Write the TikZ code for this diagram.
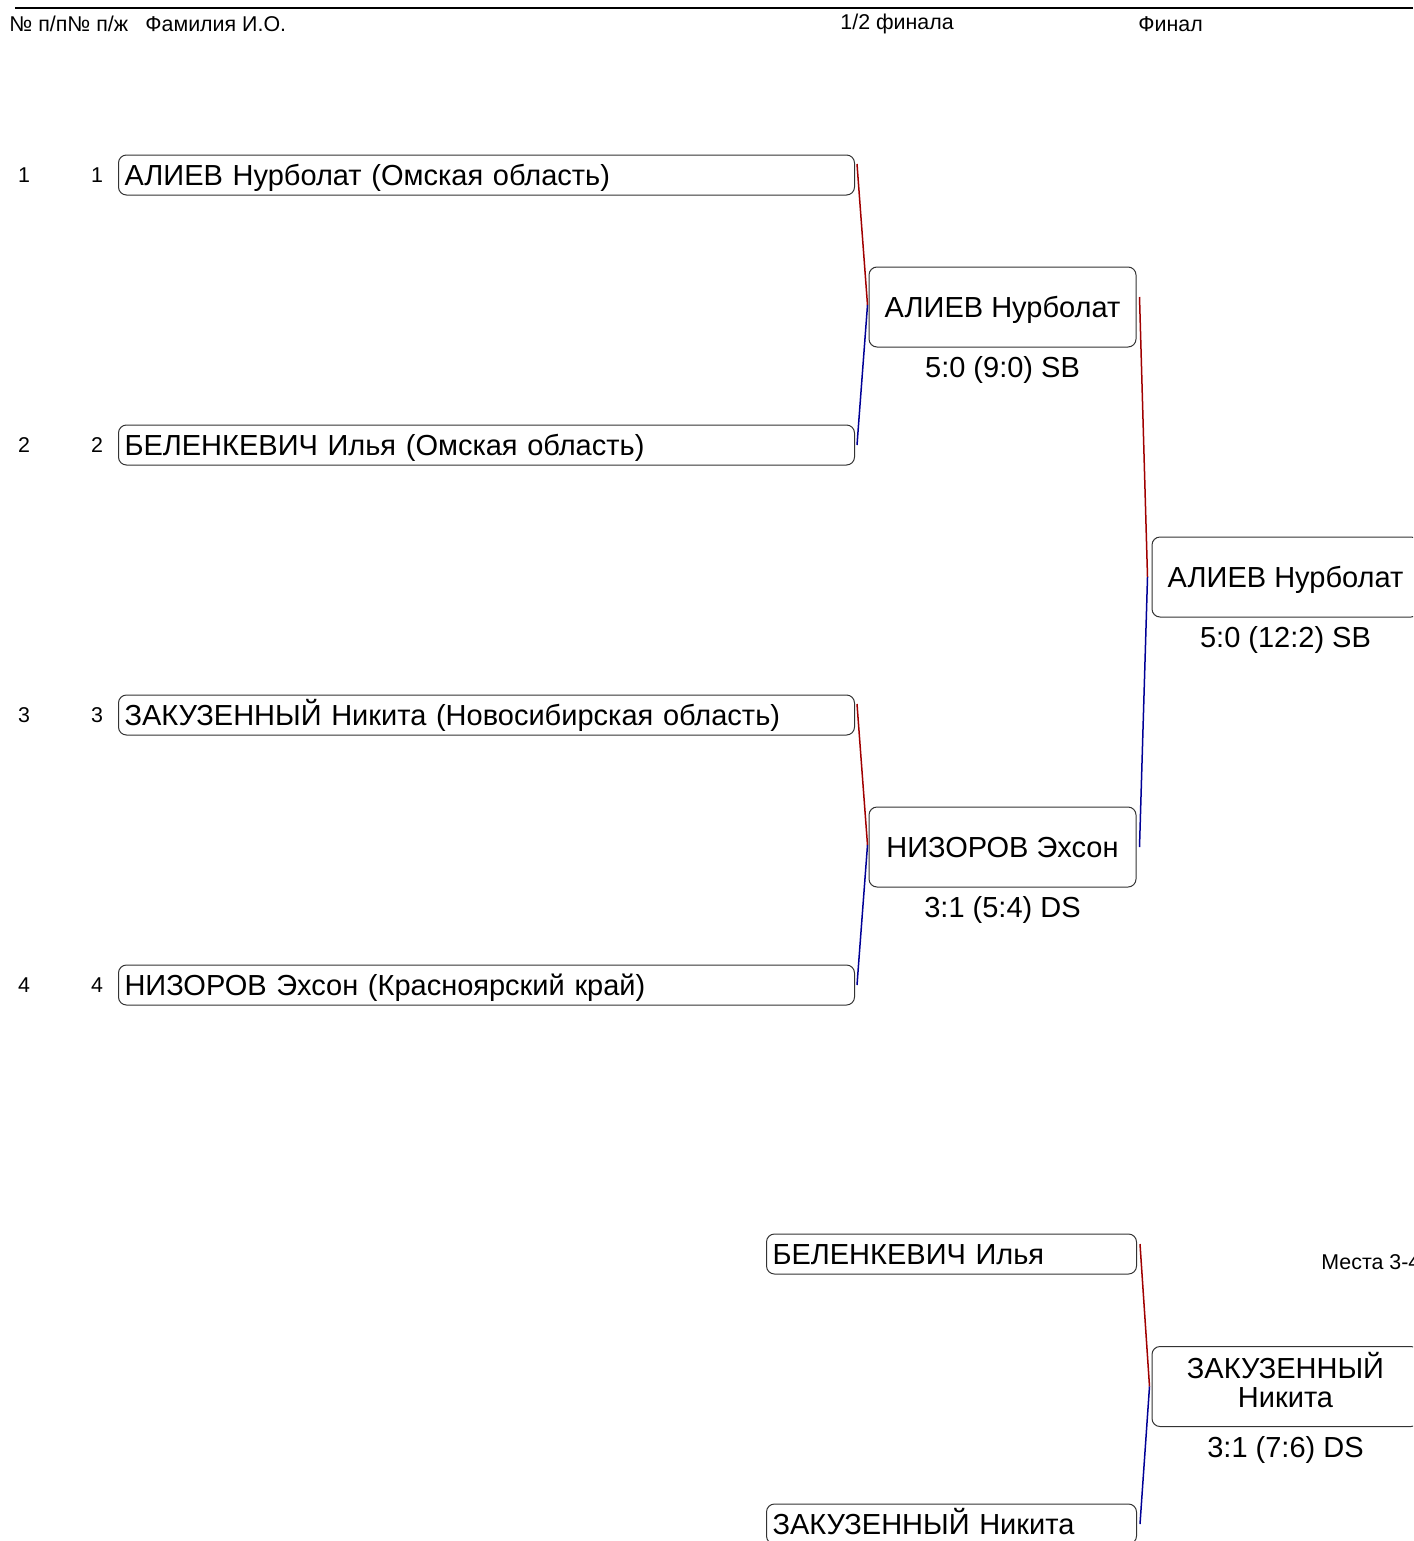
\documentclass[tikz,border=0pt]{standalone}
\usepackage{fontspec}
\setmainfont{Liberation Sans}
\usetikzlibrary{positioning}
\definecolor{winred}{RGB}{160,0,0}
\definecolor{loseblue}{RGB}{0,0,150}
\tikzset{
  bx/.style={draw=black!80, line width=0.5pt, rounded corners=4pt, inner xsep=3pt,
    inner ysep=0pt, minimum height=20pt, text height=10.6pt, text depth=0pt,
    font=\fontsize{14.5}{14.5}\selectfont},
  entry/.style={bx, anchor=west, text width=362pt, align=left},
  short/.style={bx, anchor=west, text width=179pt, align=left},
  winner/.style={bx, minimum width=133.5pt, minimum height=40pt, align=center},
  score/.style={below=4.5pt of #1, inner sep=0pt, font=\fontsize{14.5}{14.5}\selectfont},
  small/.style={inner sep=0pt, font=\fontsize{10.7}{12}\selectfont},
  win/.style={draw=winred, line width=0.75pt},
  lose/.style={draw=loseblue, line width=0.75pt}
}
\begin{document}
\begin{tikzpicture}[x=0.5pt,y=-0.5pt]
\useasboundingbox (0,0) rectangle (1413,1541);
\clip (0,0) rectangle (1413,1541);

\draw[line width=1.2pt] (15,8) -- (1413,8);
\node[small, anchor=west] (hnum) at (9,24) {№ п/п№ п/ж};
\node[small, anchor=west] (hname) at (145,24) {Фамилия И.О.};
\node[small, anchor=west] (hsemi) at (840,24) {1/2 финала};
\node[small, anchor=west] (hfin) at (1138,24) {Финал};

\foreach \i/\y in {1/175,2/445,3/715,4/985}{
  \node[small] (n\i) at (24,\y) {\i};
  \node[small] (m\i) at (97,\y) {\i};
}
\node[entry] (r1) at (118,175) {АЛИЕВ Нурболат (Омская область)};
\node[entry] (r2) at (118,445) {БЕЛЕНКЕВИЧ Илья (Омская область)};
\node[entry] (r3) at (118,715) {ЗАКУЗЕННЫЙ Никита (Новосибирская область)};
\node[entry] (r4) at (118,985) {НИЗОРОВ Эхсон (Красноярский край)};

\node[winner] (s1) at (1002.5,307) {АЛИЕВ Нурболат};
\node[score=s1] (sc1) {5:0 (9:0) SB};
\node[winner] (s2) at (1002.5,847) {НИЗОРОВ Эхсон};
\node[score=s2] (sc2) {3:1 (5:4) DS};

\node[winner] (f1) at (1285.5,577) {АЛИЕВ Нурболат};
\node[score=f1] (scf) {5:0 (12:2) SB};

\node[short] (b1) at (766,1254) {БЕЛЕНКЕВИЧ Илья};
\node[short] (b2) at (766,1524) {ЗАКУЗЕННЫЙ Никита};
\node[winner, text height=21pt] (b3) at (1285.5,1386.5) {ЗАКУЗЕННЫЙ\\Никита};
\node[score=b3] (scb) {3:1 (7:6) DS};
\node[small, anchor=west] (places) at (1321,1262) {Места 3-4};

% connectors
\coordinate (j1) at ([xshift=-0.5pt,yshift=1pt]s1.west);
\coordinate (j2) at ([xshift=-0.5pt,yshift=1pt]s2.west);
\coordinate (j3) at ([xshift=-2pt]f1.west);
\coordinate (j4) at ([xshift=-1pt]b3.west);
\draw[win] ([xshift=1pt,yshift=5.5pt]r1.east) -- (j1);
\draw[lose] (j1) -- ([xshift=1pt]r2.east);
\draw[win] ([xshift=1pt,yshift=5.5pt]r3.east) -- (j2);
\draw[lose] (j2) -- ([xshift=1pt]r4.east);
\draw[win] ([xshift=1.5pt,yshift=5pt]s1.east) -- (j3);
\draw[lose] (j3) -- ([xshift=1.5pt]s2.east);
\draw[win] ([xshift=1.5pt,yshift=5pt]b1.east) -- (j4);
\draw[lose] (j4) -- ([xshift=1.5pt]b2.east);
\end{tikzpicture}
\end{document}
